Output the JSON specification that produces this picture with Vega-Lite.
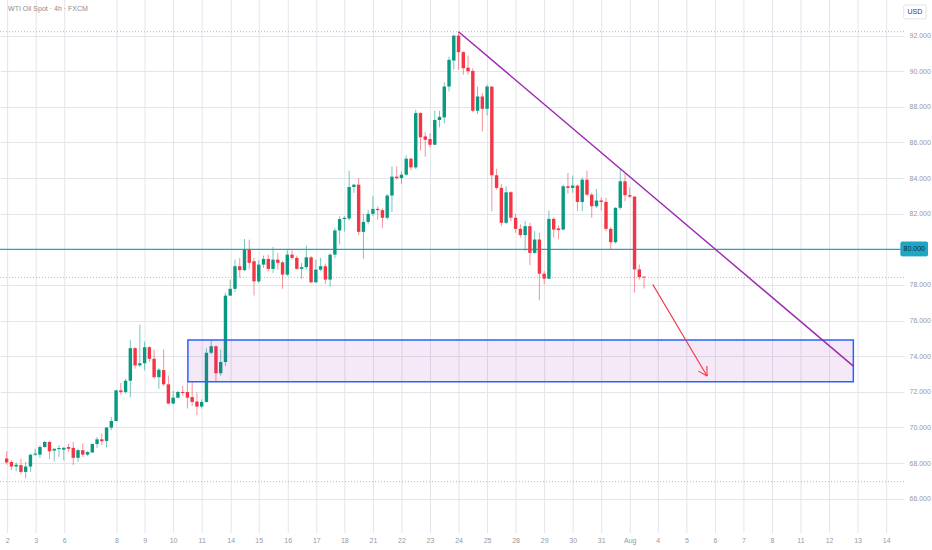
{
"$schema": "https://vega.github.io/schema/vega-lite/v6.json",
"width": 904, "height": 533,
"padding": {"left": 0, "top": 0, "right": 28, "bottom": 17},
"autosize": {"type": "none"},
"background": "white",
"config": {"view": {"stroke": null}, "font": "Liberation Sans"},
"datasets": {
"candles": [
{"b":0,"o":68.25,"h":68.66,"l":67.91,"c":68.03},
{"b":1,"o":68.06,"h":68.15,"l":67.6,"c":67.80},
{"b":2,"o":67.80,"h":68.03,"l":67.54,"c":67.90},
{"b":3,"o":67.88,"h":68.25,"l":67.37,"c":67.50},
{"b":4,"o":67.50,"h":68.06,"l":67.13,"c":67.80},
{"b":5,"o":67.80,"h":68.53,"l":67.50,"c":68.47},
{"b":6,"o":68.47,"h":68.80,"l":68.40,"c":68.53},
{"b":7,"o":68.47,"h":69.00,"l":68.29,"c":68.90},
{"b":8,"o":68.90,"h":69.24,"l":68.85,"c":69.18},
{"b":9,"o":69.18,"h":69.24,"l":68.21,"c":68.66},
{"b":10,"o":68.70,"h":68.80,"l":68.10,"c":68.80},
{"b":11,"o":68.78,"h":69.00,"l":68.34,"c":68.84},
{"b":12,"o":68.75,"h":68.90,"l":68.15,"c":68.85},
{"b":13,"o":68.90,"h":69.08,"l":68.62,"c":68.80},
{"b":14,"o":68.85,"h":69.18,"l":67.88,"c":68.29},
{"b":15,"o":68.29,"h":68.80,"l":68.06,"c":68.72},
{"b":16,"o":68.72,"h":69.10,"l":68.34,"c":68.47},
{"b":17,"o":68.47,"h":68.66,"l":68.40,"c":68.62},
{"b":18,"o":68.59,"h":69.10,"l":68.59,"c":69.07},
{"b":19,"o":69.07,"h":69.46,"l":68.85,"c":69.33},
{"b":20,"o":69.33,"h":69.65,"l":69.00,"c":69.22},
{"b":21,"o":69.24,"h":70.02,"l":68.87,"c":69.99},
{"b":22,"o":69.99,"h":70.58,"l":69.84,"c":70.36},
{"b":23,"o":70.36,"h":72.12,"l":70.34,"c":72.08},
{"b":24,"o":72.08,"h":72.50,"l":71.84,"c":71.99},
{"b":25,"o":71.99,"h":72.73,"l":71.90,"c":72.62},
{"b":26,"o":72.62,"h":74.92,"l":71.70,"c":74.45},
{"b":27,"o":74.45,"h":74.50,"l":73.30,"c":73.48},
{"b":28,"o":73.48,"h":75.76,"l":73.39,"c":73.60},
{"b":29,"o":73.60,"h":74.82,"l":73.20,"c":74.50},
{"b":30,"o":74.50,"h":74.56,"l":73.67,"c":73.85},
{"b":31,"o":73.85,"h":74.37,"l":72.73,"c":72.82},
{"b":32,"o":72.82,"h":73.33,"l":72.17,"c":73.24},
{"b":33,"o":73.22,"h":74.38,"l":72.33,"c":72.42},
{"b":34,"o":72.42,"h":72.92,"l":71.30,"c":71.34},
{"b":35,"o":71.34,"h":72.05,"l":71.30,"c":71.67},
{"b":36,"o":71.67,"h":72.05,"l":71.62,"c":71.99},
{"b":37,"o":71.99,"h":72.33,"l":71.77,"c":71.93},
{"b":38,"o":71.99,"h":72.60,"l":71.06,"c":71.67},
{"b":39,"o":71.70,"h":72.60,"l":71.20,"c":71.43},
{"b":40,"o":71.45,"h":71.95,"l":70.68,"c":71.17},
{"b":41,"o":71.17,"h":71.58,"l":71.06,"c":71.43},
{"b":42,"o":71.43,"h":74.44,"l":71.39,"c":74.19},
{"b":43,"o":74.19,"h":74.90,"l":74.10,"c":74.56},
{"b":44,"o":74.56,"h":74.60,"l":72.59,"c":73.04},
{"b":45,"o":73.04,"h":74.38,"l":72.90,"c":73.67},
{"b":46,"o":73.67,"h":77.56,"l":73.45,"c":77.40},
{"b":47,"o":77.40,"h":78.30,"l":77.37,"c":77.78},
{"b":48,"o":77.78,"h":79.42,"l":77.60,"c":79.05},
{"b":49,"o":79.05,"h":79.52,"l":78.40,"c":78.83},
{"b":50,"o":78.83,"h":80.58,"l":78.77,"c":79.98},
{"b":51,"o":79.98,"h":80.54,"l":78.86,"c":79.24},
{"b":52,"o":79.33,"h":79.52,"l":77.41,"c":78.20},
{"b":53,"o":78.20,"h":79.39,"l":78.10,"c":79.14},
{"b":54,"o":79.14,"h":79.65,"l":78.96,"c":79.46},
{"b":55,"o":79.46,"h":79.70,"l":78.77,"c":78.90},
{"b":56,"o":78.90,"h":80.13,"l":78.68,"c":79.42},
{"b":57,"o":79.42,"h":79.80,"l":78.86,"c":79.24},
{"b":58,"o":79.27,"h":79.33,"l":77.78,"c":78.58},
{"b":59,"o":78.58,"h":80.02,"l":78.49,"c":79.70},
{"b":60,"o":79.70,"h":79.95,"l":79.42,"c":79.52},
{"b":61,"o":79.52,"h":79.65,"l":78.86,"c":78.90},
{"b":62,"o":78.90,"h":79.24,"l":78.34,"c":79.00},
{"b":63,"o":79.00,"h":80.20,"l":78.86,"c":79.55},
{"b":64,"o":79.55,"h":79.61,"l":78.08,"c":78.15},
{"b":65,"o":78.15,"h":79.42,"l":78.10,"c":78.86},
{"b":66,"o":78.86,"h":79.52,"l":78.77,"c":79.05},
{"b":67,"o":79.05,"h":79.20,"l":78.06,"c":78.30},
{"b":68,"o":78.30,"h":79.76,"l":77.90,"c":79.70},
{"b":69,"o":79.70,"h":81.20,"l":79.50,"c":81.06},
{"b":70,"o":81.06,"h":81.86,"l":80.27,"c":81.70},
{"b":71,"o":81.70,"h":81.86,"l":81.00,"c":81.77},
{"b":72,"o":81.73,"h":84.42,"l":81.62,"c":83.50},
{"b":73,"o":83.50,"h":83.67,"l":83.17,"c":83.63},
{"b":74,"o":83.63,"h":84.00,"l":80.80,"c":80.98},
{"b":75,"o":80.98,"h":81.99,"l":79.47,"c":81.54},
{"b":76,"o":81.54,"h":82.23,"l":81.40,"c":81.99},
{"b":77,"o":81.99,"h":82.98,"l":81.86,"c":82.27},
{"b":78,"o":82.27,"h":82.40,"l":81.67,"c":82.20},
{"b":79,"o":82.20,"h":82.30,"l":81.20,"c":81.77},
{"b":80,"o":81.77,"h":83.10,"l":81.67,"c":83.02},
{"b":81,"o":83.02,"h":84.66,"l":82.10,"c":84.08},
{"b":82,"o":84.08,"h":84.66,"l":83.90,"c":84.00},
{"b":83,"o":84.00,"h":84.38,"l":83.67,"c":84.19},
{"b":84,"o":84.19,"h":85.28,"l":84.14,"c":85.09},
{"b":85,"o":85.09,"h":85.13,"l":84.44,"c":84.60},
{"b":86,"o":84.60,"h":87.84,"l":84.51,"c":87.65},
{"b":87,"o":87.65,"h":87.70,"l":85.54,"c":86.29},
{"b":88,"o":86.34,"h":86.58,"l":85.20,"c":86.15},
{"b":89,"o":86.19,"h":86.53,"l":85.72,"c":85.87},
{"b":90,"o":85.87,"h":87.78,"l":85.87,"c":87.26},
{"b":91,"o":87.26,"h":87.78,"l":86.85,"c":87.44},
{"b":92,"o":87.41,"h":89.37,"l":87.07,"c":89.14},
{"b":93,"o":89.14,"h":90.82,"l":88.86,"c":90.64},
{"b":94,"o":90.60,"h":92.04,"l":90.08,"c":92.00},
{"b":95,"o":92.00,"h":92.22,"l":90.08,"c":91.07},
{"b":96,"o":91.07,"h":91.14,"l":89.80,"c":90.17},
{"b":97,"o":90.20,"h":90.88,"l":89.80,"c":90.00},
{"b":98,"o":90.02,"h":90.17,"l":87.70,"c":87.78},
{"b":99,"o":87.78,"h":89.14,"l":87.60,"c":88.58},
{"b":100,"o":88.58,"h":88.77,"l":86.62,"c":87.89},
{"b":101,"o":87.89,"h":89.24,"l":87.52,"c":89.14},
{"b":102,"o":89.14,"h":89.14,"l":82.14,"c":84.16},
{"b":103,"o":84.16,"h":84.53,"l":83.35,"c":83.45},
{"b":104,"o":83.45,"h":83.67,"l":81.30,"c":81.49},
{"b":105,"o":81.49,"h":83.54,"l":81.43,"c":83.20},
{"b":106,"o":83.20,"h":83.26,"l":81.58,"c":81.77},
{"b":107,"o":81.77,"h":81.99,"l":80.93,"c":81.15},
{"b":108,"o":81.15,"h":81.40,"l":80.65,"c":80.80},
{"b":109,"o":80.80,"h":81.58,"l":79.90,"c":81.30},
{"b":110,"o":81.30,"h":81.49,"l":79.11,"c":79.80},
{"b":111,"o":79.80,"h":81.02,"l":79.75,"c":80.55},
{"b":112,"o":80.55,"h":80.93,"l":77.14,"c":78.63},
{"b":113,"o":78.63,"h":78.78,"l":78.03,"c":78.35},
{"b":114,"o":78.35,"h":82.18,"l":78.31,"c":81.71},
{"b":115,"o":81.71,"h":81.80,"l":80.65,"c":81.11},
{"b":116,"o":81.17,"h":81.34,"l":80.55,"c":81.08},
{"b":117,"o":81.11,"h":83.63,"l":81.06,"c":83.54},
{"b":118,"o":83.54,"h":84.29,"l":83.11,"c":83.45},
{"b":119,"o":83.45,"h":84.14,"l":83.17,"c":83.58},
{"b":120,"o":83.58,"h":83.63,"l":82.14,"c":82.66},
{"b":121,"o":82.66,"h":84.04,"l":82.14,"c":83.91},
{"b":122,"o":83.91,"h":84.42,"l":82.98,"c":83.07},
{"b":123,"o":83.07,"h":83.17,"l":81.77,"c":82.42},
{"b":124,"o":82.42,"h":83.39,"l":82.33,"c":82.74},
{"b":125,"o":82.74,"h":82.92,"l":82.18,"c":82.66},
{"b":126,"o":82.66,"h":82.89,"l":81.02,"c":81.15},
{"b":127,"o":81.15,"h":81.24,"l":79.99,"c":80.40},
{"b":128,"o":80.40,"h":82.36,"l":80.33,"c":82.33},
{"b":129,"o":82.33,"h":84.53,"l":82.23,"c":83.82},
{"b":130,"o":83.82,"h":84.23,"l":82.70,"c":83.04},
{"b":131,"o":83.04,"h":83.48,"l":82.89,"c":82.96},
{"b":132,"o":82.96,"h":82.98,"l":77.57,"c":78.87},
{"b":133,"o":78.87,"h":79.15,"l":78.30,"c":78.44},
{"b":134,"o":78.46,"h":78.50,"l":77.80,"c":78.42}
],
"days": [
{"b":0.2,"t":"2"},{"b":6.2,"t":"3"},{"b":12.2,"t":"6"},{"b":23.2,"t":"8"},{"b":29.1,"t":"9"},{"b":35.1,"t":"10"},{"b":41.1,"t":"11"},{"b":47.2,"t":"14"},{"b":53.1,"t":"15"},{"b":59.2,"t":"16"},{"b":65.2,"t":"17"},{"b":71.1,"t":"18"},{"b":77.1,"t":"21"},{"b":83.1,"t":"22"},{"b":89.1,"t":"23"},{"b":95.1,"t":"24"},{"b":101.1,"t":"25"},{"b":107.1,"t":"28"},{"b":113.1,"t":"29"},{"b":119.1,"t":"30"},{"b":125.1,"t":"31"},{"b":131.1,"t":"Aug"},{"b":137,"t":"4"},{"b":143,"t":"5"},{"b":149,"t":"6"},{"b":155,"t":"7"},{"b":161,"t":"8"},{"b":167,"t":"11"},{"b":173,"t":"12"},{"b":179,"t":"13"},{"b":185,"t":"14"}
]
},
"layer": [
{
"data": {"name": "days"},
"mark": {"type": "rule", "color": "#e3e5ea", "strokeWidth": 1},
"encoding": {
"x": {"field": "b", "type": "quantitative", "title": null,
"scale": {"domain": [-0.35, 187.6], "nice": false, "zero": false},
"axis": null}
}
},
{
"data": {"name": "days"},
"mark": {"type": "text", "fontSize": 7, "color": "#9598a1", "align": "center", "baseline": "middle"},
"encoding": {
"x": {"field": "b", "type": "quantitative", "title": null, "scale": {"domain": [-0.35, 187.6], "nice": false, "zero": false}},
"y": {"datum": 63.6, "type": "quantitative", "title": null, "scale": {"domain": [64.07, 94.0], "nice": false, "zero": false}},
"text": {"field": "t"}
}
},
{
"data": {"name": "candles"},
"mark": {"type": "rule", "strokeWidth": 1, "opacity": 0.55},
"encoding": {
"x": {"field": "b", "type": "quantitative", "title": null,
"scale": {"domain": [-0.35, 187.6], "nice": false, "zero": false}},
"y": {"field": "l", "type": "quantitative", "title": null,
"scale": {"domain": [64.07, 94.0], "nice": false, "zero": false},
"axis": {"orient": "right", "values": [66,68,70,72,74,76,78,82,84,86,88,90,92], "format": ".3f",
"grid": true, "gridColor": "#e3e5ea", "gridWidth": 1, "ticks": false, "domain": false,
"labelFontSize": 7, "labelColor": "#9598a1", "labelPadding": 5, "labelOverlap": false}},
"y2": {"field": "h"},
"color": {"condition": {"test": "datum.c >= datum.o", "value": "#089981"}, "value": "#f23645"}
}
},
{
"data": {"values": [{"p": 92.22}, {"p": 66.95}]},
"mark": {"type": "rule", "color": "#b2b5be", "strokeDash": [1, 2], "strokeWidth": 1},
"encoding": {"y": {"field": "p", "type": "quantitative", "title": null, "scale": {"domain": [64.07, 94.0], "nice": false, "zero": false}}}
},
{
"data": {"values": [{"p": 78.42}]},
"mark": {"type": "rule", "color": "#f23645", "opacity": 0.45, "strokeDash": [1, 2], "strokeWidth": 1},
"encoding": {"y": {"field": "p", "type": "quantitative", "title": null, "scale": {"domain": [64.07, 94.0], "nice": false, "zero": false}}}
},
{
"data": {"values": [{"p": 80.0}]},
"mark": {"type": "rule", "color": "#1fa6c3", "strokeWidth": 1.3},
"encoding": {"y": {"field": "p", "type": "quantitative", "title": null, "scale": {"domain": [64.07, 94.0], "nice": false, "zero": false}}}
},
{
"data": {"name": "candles"},
"mark": {"type": "bar", "width": 3.4},
"encoding": {
"x": {"field": "b", "type": "quantitative", "title": null, "scale": {"domain": [-0.35, 187.6], "nice": false, "zero": false}},
"y": {"field": "o", "type": "quantitative", "title": null, "scale": {"domain": [64.07, 94.0], "nice": false, "zero": false}},
"y2": {"field": "c"},
"color": {"condition": {"test": "datum.c >= datum.o", "value": "#089981"}, "value": "#f23645"}
}
},
{
"data": {"values": [{"x1": 38.1, "x2": 178.0, "y1": 74.91, "y2": 72.56}]},
"mark": {"type": "rect", "fill": "#9c27b0", "fillOpacity": 0.1, "stroke": "#2962ff", "strokeWidth": 1.5},
"encoding": {
"x": {"field": "x1", "type": "quantitative", "title": null, "scale": {"domain": [-0.35, 187.6], "nice": false, "zero": false}},
"x2": {"field": "x2"},
"y": {"field": "y1", "type": "quantitative", "title": null, "scale": {"domain": [64.07, 94.0], "nice": false, "zero": false}},
"y2": {"field": "y2"}
}
},
{
"data": {"values": [{"b": 95.0, "p": 92.22}, {"b": 178.0, "p": 73.44}]},
"mark": {"type": "line", "color": "#9c27b0", "strokeWidth": 1.4},
"encoding": {
"x": {"field": "b", "type": "quantitative", "title": null, "scale": {"domain": [-0.35, 187.6], "nice": false, "zero": false}},
"y": {"field": "p", "type": "quantitative", "title": null, "scale": {"domain": [64.07, 94.0], "nice": false, "zero": false}}
}
},
{
"data": {"values": [
{"s": "shaft", "k": 0, "b": 135.82, "p": 78.03}, {"s": "shaft", "k": 1, "b": 147.25, "p": 72.89},
{"s": "h1", "k": 0, "b": 147.21, "p": 73.45}, {"s": "h1", "k": 1, "b": 147.25, "p": 72.89},
{"s": "h2", "k": 0, "b": 145.43, "p": 73.16}, {"s": "h2", "k": 1, "b": 147.25, "p": 72.89}
]},
"mark": {"type": "line", "color": "#f23645", "strokeWidth": 1.1},
"encoding": {
"x": {"field": "b", "type": "quantitative", "title": null, "scale": {"domain": [-0.35, 187.6], "nice": false, "zero": false}},
"y": {"field": "p", "type": "quantitative", "title": null, "scale": {"domain": [64.07, 94.0], "nice": false, "zero": false}},
"detail": {"field": "s"},
"order": {"field": "k"}
}
},
{
"data": {"values": [{"x1": 188.0, "x2": 193.6, "y1": 80.41, "y2": 79.63, "f": "#1fa6c3", "st": "#1fa6c3"}, {"x1": 188.6, "x2": 193.3, "y1": 93.72, "y2": 92.94, "f": "#ffffff", "st": "#e0e3eb"}]},
"mark": {"type": "rect", "strokeWidth": 1, "cornerRadius": 1},
"encoding": {
"x": {"field": "x1", "type": "quantitative", "title": null, "scale": {"domain": [-0.35, 187.6], "nice": false, "zero": false}},
"x2": {"field": "x2"},
"y": {"field": "y1", "type": "quantitative", "title": null, "scale": {"domain": [64.07, 94.0], "nice": false, "zero": false}},
"y2": {"field": "y2"},
"fill": {"field": "f", "type": "nominal", "scale": null},
"stroke": {"field": "st", "type": "nominal", "scale": null}
}
},
{
"data": {"values": [
{"b": 190.8, "p": 80.0, "t": "80.000", "col": "#0b2e33"},
{"b": 190.95, "p": 93.33, "t": "USD", "col": "#2a3590"}
]},
"mark": {"type": "text", "fontSize": 7, "align": "center", "baseline": "middle"},
"encoding": {
"x": {"field": "b", "type": "quantitative", "title": null, "scale": {"domain": [-0.35, 187.6], "nice": false, "zero": false}},
"y": {"field": "p", "type": "quantitative", "title": null, "scale": {"domain": [64.07, 94.0], "nice": false, "zero": false}},
"text": {"field": "t"},
"color": {"field": "col", "type": "nominal", "scale": null}
}
},
{
"data": {"values": [{"b": 0.3, "p": 93.5, "t": "WTI Oil Spot · 4h · FXCM"}]},
"mark": {"type": "text", "fontSize": 7, "align": "left", "baseline": "middle", "color": "#8a8d96"},
"encoding": {
"x": {"field": "b", "type": "quantitative", "title": null, "scale": {"domain": [-0.35, 187.6], "nice": false, "zero": false}},
"y": {"field": "p", "type": "quantitative", "title": null, "scale": {"domain": [64.07, 94.0], "nice": false, "zero": false}},
"text": {"field": "t"}
}
}
]
}
